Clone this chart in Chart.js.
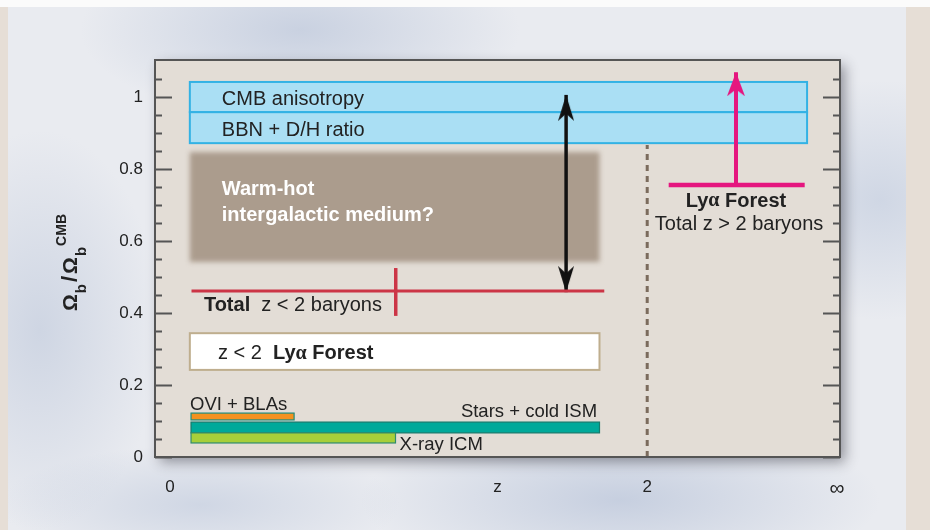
<!DOCTYPE html>
<html>
<head>
<meta charset="utf-8">
<script src="https://cdn.jsdelivr.net/npm/chart.js@4.4.1/dist/chart.umd.min.js"></script>
<style>
html, body { margin: 0; padding: 0; }
body {
	width: 930px; height: 530px; overflow: hidden;
	background:
		linear-gradient(to bottom, #fbfbfb 0 7px, transparent 7px),
		linear-gradient(to right, #e6ded6 0 8px, transparent 8px 906px, #e6ded6 906px),
		radial-gradient(ellipse 220px 90px at 300px 30px, rgba(175,188,212,.55), transparent),
		radial-gradient(ellipse 260px 80px at 620px 500px, rgba(170,184,210,.55), transparent),
		radial-gradient(ellipse 120px 200px at 40px 330px, rgba(180,192,214,.5), transparent),
		radial-gradient(ellipse 140px 120px at 880px 200px, rgba(176,190,214,.45), transparent),
		radial-gradient(ellipse 200px 60px at 200px 505px, rgba(182,194,216,.5), transparent),
		#e9ebf0;
}
canvas { display: block; }
</style>
</head>
<body>
<canvas id="c" width="930" height="530"></canvas>
<script>
// axis ticks
const zTicks = [0, 1.372, 2, 2.795];
const zTickLabels = ['0', 'z', '2', '\u221e'];
const yTicks = [0, 0.05, 0.1, 0.15, 0.2, 0.25, 0.3, 0.35, 0.4, 0.45, 0.5, 0.55, 0.6, 0.65, 0.7, 0.75, 0.8, 0.85, 0.9, 0.95, 1, 1.05];
const yTickLabels = {0: '0', 0.2: '0.2', 0.4: '0.4', 0.6: '0.6', 0.8: '0.8', 1: '1'};

// horizontal bands (z range, Omega_b/Omega_b^CMB range)
const bandNames = ['CMB anisotropy', 'BBN + D/H ratio', 'Warm-hot intergalactic medium?', 'z < 2 Ly\u03b1 Forest', 'OVI + BLAs', 'Stars + cold ISM', 'X-ray ICM'];
const bandZFrom = [0.083, 0.083, 0.083, 0.083, 0.088, 0.088, 0.088];
const bandZTo   = [2.67, 2.67, 1.80, 1.80, 0.52, 1.80, 0.945];
const bandLow   = [0.958, 0.872, 0.542, 0.242, 0.103, 0.067, 0.039];
const bandHigh  = [1.042, 0.958, 0.847, 0.344, 0.122, 0.097, 0.067];

// total z < 2 baryons with its error bar
const totalZ = [0.09, 1.82];
const totalLevel = 0.461;
const totalErrZ = 0.946;
const totalErr = [0.392, 0.525];

// missing baryons
const gapZ = 1.66;
const gapRange = [0.458, 1.006];

// z = 2 divider
const dividerZ = 2;
const dividerTop = 0.867;

// z > 2 Lya forest lower limit
const lyaZ = [2.09, 2.66];
const lyaLevel = 0.756;
const lyaArrowZ = 2.372;
const lyaArrowTip = 1.069;

const bandStyles = [
	{fill: '#aadff4', stroke: '#33b2e4', lw: 2},
	{fill: '#aadff4', stroke: '#33b2e4', lw: 2},
	{fill: '#ab9c8d', blur: 2.5},
	{fill: '#ffffff', stroke: '#bfae8e', lw: 2},
	{fill: '#f3921f', stroke: '#1f8c7c', lw: 1.2},
	{fill: '#00a99a', stroke: '#167a6c', lw: 1.2},
	{fill: '#a7cf3a', stroke: '#2f8c6c', lw: 1.2}
];

const SANS = '"Liberation Sans", Arial, sans-serif';
const SERIF = '"Liberation Serif", "Times New Roman", serif';

// text runs: [text, bold, serif]
const notes = [
	{z: 0.217, v: 0.993, runs: [['CMB anisotropy']]},
	{z: 0.217, v: 0.907, runs: [['BBN + D/H ratio']]},
	{z: 0.217, v: 0.742, runs: [['Warm-hot', 1]], color: '#ffffff'},
	{z: 0.217, v: 0.672, runs: [['intergalactic medium?', 1]], color: '#ffffff'},
	{z: 0.142, v: 0.422, runs: [['Total', 1], ['  z < 2 baryons']]},
	{z: 0.201, v: 0.288, runs: [['z < 2  '], ['Ly', 1], ['\u03b1', 1, 1], [' Forest', 1]]},
	{z: 0.084, v: 0.144, runs: [['OVI + BLAs']], size: 18.5},
	{z: 1.79, v: 0.124, runs: [['Stars + cold ISM']], size: 18.5, align: 'right'},
	{z: 0.962, v: 0.033, runs: [['X-ray ICM']], size: 18.5},
	{z: 2.372, v: 0.711, runs: [['Ly', 1], ['\u03b1', 1, 1], [' Forest', 1]], align: 'center'},
	{z: 2.385, v: 0.647, runs: [['Total z > 2 baryons']], align: 'center'}
];

function arrowHead(color, w, len) {
	const c = document.createElement('canvas');
	c.width = w; c.height = len * 2;
	const g = c.getContext('2d');
	g.fillStyle = color;
	g.beginPath();
	g.moveTo(w / 2, len);
	g.lineTo(w, len * 2);
	g.lineTo(w / 2, len * 2 - len * 0.28);
	g.lineTo(0, len * 2);
	g.closePath();
	g.fill();
	return c;
}
const blackHead = arrowHead('#111111', 16, 26);
const pinkHead = arrowHead('#e5167f', 18, 24);

function drawRuns(ctx, x, y, runs, size, align, color) {
	const fontOf = r => (r[1] ? 'bold ' : '') + size + 'px ' + (r[2] ? SERIF : SANS);
	let total = 0;
	runs.forEach(r => { ctx.font = fontOf(r); total += ctx.measureText(r[0]).width; });
	let cx = align === 'right' ? x - total : align === 'center' ? x - total / 2 : x;
	ctx.fillStyle = color;
	ctx.textAlign = 'left';
	ctx.textBaseline = 'middle';
	runs.forEach(r => {
		ctx.font = fontOf(r);
		ctx.fillText(r[0], cx, y);
		cx += ctx.measureText(r[0]).width;
	});
}

const figure = {
	id: 'figure',
	beforeDraw(chart) {
		const {ctx, chartArea: a} = chart;
		ctx.save();
		ctx.shadowColor = 'rgba(40,40,50,0.45)';
		ctx.shadowBlur = 12;
		ctx.shadowOffsetX = 5;
		ctx.shadowOffsetY = 5;
		ctx.fillStyle = '#e3ddd6';
		ctx.fillRect(a.left, a.top, a.right - a.left, a.bottom - a.top);
		ctx.restore();
	},
	beforeDatasetsDraw(chart) {
		const {ctx, scales: {x, y}} = chart;
		bandNames.forEach((name, i) => {
			const st = bandStyles[i];
			const l = x.getPixelForValue(bandZFrom[i]), r = x.getPixelForValue(bandZTo[i]);
			const t = y.getPixelForValue(bandHigh[i]), b = y.getPixelForValue(bandLow[i]);
			ctx.save();
			if (st.blur) ctx.filter = 'blur(' + st.blur + 'px)';
			ctx.fillStyle = st.fill;
			ctx.fillRect(l, t, r - l, b - t);
			if (st.stroke) {
				ctx.lineWidth = st.lw;
				ctx.strokeStyle = st.stroke;
				ctx.strokeRect(l, t, r - l, b - t);
			}
			ctx.restore();
		});
	},
	afterDatasetsDraw(chart) {
		const {ctx, scales: {x, y}} = chart;
		ctx.save();
		notes.forEach(n => drawRuns(ctx, x.getPixelForValue(n.z), y.getPixelForValue(n.v),
			n.runs, n.size || 20, n.align || 'left', n.color || '#222222'));
		ctx.restore();
	},
	afterDraw(chart) {
		const {ctx, chartArea: a, scales: {y}} = chart;
		ctx.save();
		// inward ticks, both sides
		ctx.strokeStyle = '#555555';
		ctx.lineWidth = 2;
		y.ticks.forEach(t => {
			const py = Math.round(y.getPixelForValue(t.value)) + 0.5;
			const len = yTickLabels[t.value] !== undefined ? 17 : 7;
			ctx.beginPath();
			ctx.moveTo(a.left, py); ctx.lineTo(a.left + len, py);
			ctx.moveTo(a.right, py); ctx.lineTo(a.right - len, py);
			ctx.stroke();
		});
		ctx.strokeRect(a.left, a.top, a.right - a.left, a.bottom - a.top);
		// y title: Omega_b / Omega_b^CMB
		ctx.translate(77, 311);
		ctx.rotate(-Math.PI / 2);
		ctx.fillStyle = '#222222';
		ctx.textBaseline = 'alphabetic';
		ctx.textAlign = 'left';
		let u = 0;
		const put = (s, size, dv, gap) => {
			ctx.font = 'bold ' + size + 'px ' + SANS;
			ctx.fillText(s, u, dv);
			u += ctx.measureText(s).width + gap;
		};
		put('\u03a9', 21, 0, 1);
		put('b', 15, 9, 2);
		put('/', 22, 0, 2);
		put('\u03a9', 21, 0, 1);
		put('b', 15, 9, 1);
		put('CMB', 14, -11, 0);
		ctx.restore();
	}
};

new Chart(document.getElementById('c'), {
	type: 'scatter',
	data: {
		datasets: [
			{
				data: [{x: totalZ[0], y: totalLevel}, {x: totalZ[1], y: totalLevel}],
				showLine: true, borderColor: '#cc3546', borderWidth: 3, pointRadius: 0
			},
			{
				data: [{x: totalErrZ, y: totalErr[0]}, {x: totalErrZ, y: totalErr[1]}],
				showLine: true, borderColor: '#cc3546', borderWidth: 3.5, pointRadius: 0
			},
			{
				data: [{x: dividerZ, y: 0}, {x: dividerZ, y: dividerTop}],
				showLine: true, borderColor: '#7b6b5d', borderWidth: 3, borderDash: [6, 5], pointRadius: 0
			},
			{
				data: [{x: gapZ, y: gapRange[0]}, {x: gapZ, y: gapRange[1]}],
				showLine: true, borderColor: '#111111', borderWidth: 3.5,
				pointStyle: blackHead, pointRotation: [180, 0], pointRadius: 5
			},
			{
				data: [{x: lyaZ[0], y: lyaLevel}, {x: lyaZ[1], y: lyaLevel}],
				showLine: true, borderColor: '#e5167f', borderWidth: 4.5, pointRadius: 0
			},
			{
				data: [{x: lyaArrowZ, y: lyaLevel}, {x: lyaArrowZ, y: lyaArrowTip}],
				showLine: true, borderColor: '#e5167f', borderWidth: 4,
				pointStyle: pinkHead, pointRotation: 0, pointRadius: [0, 5]
			}
		]
	},
	options: {
		responsive: false,
		animation: false,
		devicePixelRatio: 1,
		layout: {padding: {left: 0, top: 60, right: 90, bottom: 0}},
		plugins: {legend: {display: false}, tooltip: {enabled: false}},
		scales: {
			x: {
				type: 'linear', min: -0.063, max: 2.808,
				grid: {display: false, drawTicks: false}, border: {display: false},
				afterBuildTicks: s => { s.ticks = zTicks.map(v => ({value: v})); },
				afterFit: s => { s.height = 73; },
				ticks: {
					autoSkip: false, maxRotation: 0, padding: 20,
					color: '#222222',
					font: c => ({family: SANS, size: c.index === 3 ? 21 : 17}),
					callback: (v, i) => zTickLabels[i]
				}
			},
			y: {
				type: 'linear', min: 0, max: 1.103,
				grid: {display: false, drawTicks: false}, border: {display: false},
				afterBuildTicks: s => { s.ticks = yTicks.map(v => ({value: v})); },
				afterFit: s => { s.width = 155; },
				ticks: {
					autoSkip: false, padding: 12,
					color: '#222222', font: {family: SANS, size: 17},
					callback: v => yTickLabels[v] !== undefined ? yTickLabels[v] : ''
				}
			}
		}
	},
	plugins: [figure]
});
</script>
</body>
</html>
